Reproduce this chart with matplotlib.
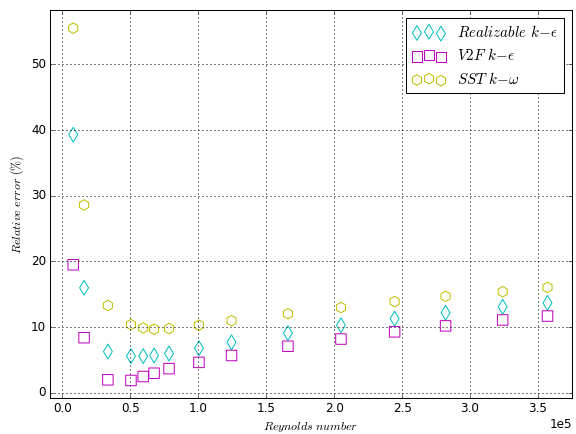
import matplotlib
matplotlib.use('Agg')
import matplotlib.pyplot as plt
import numpy as np

plt.style.use('classic')
plt.rcParams['mathtext.fontset'] = 'cm'

# Reynolds numbers
reynolds = [8000, 16000, 33500, 50500, 59500, 67500, 78500, 100500,
            124500, 166000, 205000, 244500, 282000, 324000, 357000]

# relative error (%)
realizable = [39.3, 16.0, 6.3, 5.6, 5.6, 5.7, 6.0, 6.8,
              7.7, 9.1, 10.3, 11.3, 12.2, 13.1, 13.7]
v2f = [19.5, 8.4, 2.0, 1.9, 2.5, 3.0, 3.7, 4.65,
       5.7, 7.1, 8.2, 9.3, 10.2, 11.1, 11.7]
sst = [55.5, 28.6, 13.3, 10.4, 9.9, 9.7, 9.8, 10.3,
       11.0, 12.05, 13.0, 13.9, 14.7, 15.4, 16.05]

cyan = (0.0, 0.75, 0.75)
magenta = (0.75, 0.0, 0.75)
yellow = (0.75, 0.75, 0.0)

fig = plt.figure(figsize=(8, 434/72.), dpi=72)
ax = fig.add_axes([0.087, 0.084, 0.906, 0.892])

ax.scatter(reynolds, realizable, marker='d', s=110, facecolors='none',
           edgecolors=[cyan], linewidths=1.0, snap=False,
           label=r'$\mathit{Realizable}\ k\!-\!\epsilon$')
ax.scatter(reynolds, v2f, marker='s', s=110, facecolors='none',
           edgecolors=[magenta], linewidths=1.0, snap=False,
           label=r'$\mathit{V2F}\ k\!-\!\epsilon$')
ax.scatter(reynolds, sst, marker='h', s=110, facecolors='none',
           edgecolors=[yellow], linewidths=1.0, snap=False,
           label=r'$\mathit{SST}\ k\!-\!\omega$')

ax.set_xlim(-0.09e5, 3.75e5)
ax.set_ylim(-0.7, 58.2)
ax.ticklabel_format(axis='x', style='sci', scilimits=(0, 0))
ax.grid(True, color='k', linestyle=':', linewidth=1.0)
ax.set_xlabel(r'$\mathit{Reynolds\ number}$', fontsize=12)
ax.set_ylabel(r'$\mathit{Relative\ error\ (\%)}$', fontsize=12)
ax.legend(loc='upper right', scatterpoints=3, fontsize=15, handlelength=2.2)

fig.savefig('out.png', dpi=72)
